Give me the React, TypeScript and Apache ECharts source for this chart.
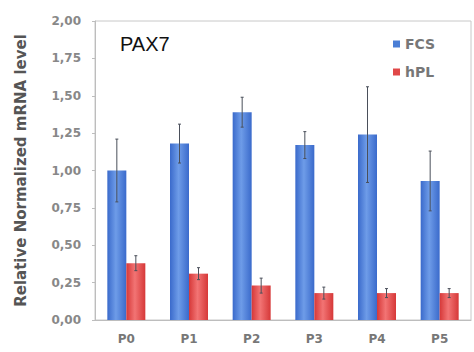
import React, { useEffect, useRef } from "react";
import * as echarts from "echarts";

const categories = ["P0", "P1", "P2", "P3", "P4", "P5"];
const fcsValues = [1.0, 1.18, 1.39, 1.17, 1.24, 0.93];
const fcsErrors = [0.21, 0.13, 0.1, 0.09, 0.32, 0.2];
const hplValues = [0.38, 0.31, 0.23, 0.18, 0.18, 0.18];
const hplErrors = [0.05, 0.04, 0.05, 0.04, 0.03, 0.03];
const yTicks = ["0,00", "0,25", "0,50", "0,75", "1,00", "1,25", "1,50", "1,75", "2,00"];

const BAR_W = 19;
const FONT = "DejaVu Sans";

function grad(edge: string, mid: string) {
  return new echarts.graphic.LinearGradient(0, 0, 1, 0, [
    { offset: 0, color: edge },
    { offset: 0.45, color: mid },
    { offset: 1, color: edge },
  ]);
}

function errSeries(name: string, values: number[], errors: number[], side: number) {
  return {
    type: "custom",
    name,
    z: 5,
    silent: true,
    data: values.map((v, i) => [i, v, errors[i]]),
    renderItem: (params: any, api: any) => {
      const i = api.value(0);
      const v = api.value(1);
      const e = api.value(2);
      const top = api.coord([i, v + e]);
      const bot = api.coord([i, v - e]);
      const x = top[0] + side * (BAR_W / 2);
      const style = { stroke: "#4a4f5a", lineWidth: 1 };
      return {
        type: "group",
        children: [
          { type: "line", shape: { x1: x, y1: top[1], x2: x, y2: bot[1] }, style },
          { type: "line", shape: { x1: x - 1.5, y1: top[1], x2: x + 1.5, y2: top[1] }, style },
          { type: "line", shape: { x1: x - 1.5, y1: bot[1], x2: x + 1.5, y2: bot[1] }, style },
        ],
      };
    },
  };
}

export default function App() {
  const ref = useRef<HTMLDivElement>(null);
  useEffect(() => {
    if (!ref.current) return;
    const chart = echarts.init(ref.current, null, { renderer: "svg" });
    chart.setOption({
      animation: false,
      backgroundColor: "#ffffff",
      textStyle: { fontFamily: FONT },
      grid: {
        left: 95,
        right: 3,
        top: 21,
        bottom: 32,
        show: true,
        borderColor: "#c8c8c8",
        borderWidth: 1,
      },
      legend: {
        orient: "vertical",
        left: 388,
        top: 32,
        itemWidth: 7,
        itemHeight: 7,
        itemGap: 14,
        itemSymbolTextGap: 3,
        icon: "rect",
        textStyle: { fontSize: 14, fontWeight: "bold", color: "#777", fontFamily: FONT },
        data: [
          { name: "FCS", itemStyle: { color: "#4a7ed6" } },
          { name: "hPL", itemStyle: { color: "#e04848" } },
        ],
      },
      graphic: [
        {
          type: "text",
          left: 120,
          top: 34,
          style: { text: "PAX7", fontSize: 20, fill: "#111", fontFamily: "Liberation Sans" },
        },
      ],
      xAxis: {
        type: "category",
        data: categories,
        axisLine: { lineStyle: { color: "#bdbdbd" } },
        axisTick: { show: false },
        axisLabel: { color: "#777", fontSize: 12, fontWeight: "bold", margin: 13, fontFamily: FONT },
      },
      yAxis: {
        type: "value",
        min: 0,
        max: 2,
        interval: 0.25,
        name: "Relative Normalized mRNA level",
        nameLocation: "middle",
        nameGap: 67,
        nameTextStyle: { fontSize: 15, fontWeight: "bold", color: "#555", fontFamily: FONT },
        axisLine: { show: true, lineStyle: { color: "#bdbdbd" } },
        axisTick: { show: true, length: 3, lineStyle: { color: "#bdbdbd" } },
        splitLine: { show: false },
        axisLabel: {
          color: "#888",
          fontSize: 12,
          fontWeight: "bold",
          margin: 14,
          fontFamily: FONT,
          formatter: (v: number) => yTicks[Math.round(v / 0.25)] ?? "",
        },
      },
      series: [
        {
          type: "bar",
          name: "FCS",
          data: fcsValues,
          barWidth: BAR_W,
          barGap: "0%",
          itemStyle: { color: grad("#3a6acb", "#6e9ce8") },
        },
        {
          type: "bar",
          name: "hPL",
          data: hplValues,
          barWidth: BAR_W,
          barGap: "0%",
          itemStyle: { color: grad("#d63838", "#f27474") },
        },
        errSeries("FCSerr", fcsValues, fcsErrors, -1),
        errSeries("hPLerr", hplValues, hplErrors, 1),
      ],
    });
    return () => chart.dispose();
  }, []);
  return (
    <div
      ref={ref}
      style={{ position: "absolute", left: 0, top: 0, width: 474, height: 352 }}
    />
  );
}
